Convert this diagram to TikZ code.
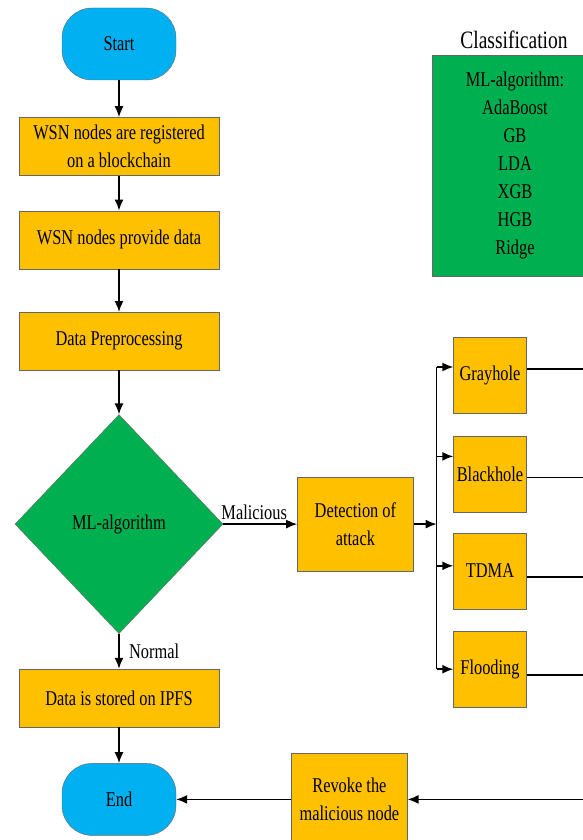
\documentclass[tikz,border=0pt]{standalone}
\usepackage{fontspec}
\setmainfont[FakeStretch=0.78]{Liberation Serif}
\usetikzlibrary{positioning,arrows.meta,shapes.geometric}
\definecolor{boxorange}{HTML}{FFC000}
\definecolor{boxgreen}{HTML}{00B050}
\definecolor{boxblue}{HTML}{00B0F0}
\newcommand{\flowfont}{\rmfamily\fontsize{21}{28}\selectfont}
\tikzset{
  procbox/.style={rectangle, draw=black!60, fill=boxorange, minimum width=200pt, minimum height=58pt, inner sep=1pt, font=\flowfont, align=center},
  termnode/.style={rectangle, rounded corners=30pt, draw=black!60, fill=boxblue, minimum width=114pt, minimum height=72pt, font=\flowfont},
  decision/.style={diamond, draw=black!60, fill=boxgreen, minimum width=208pt, minimum height=219pt, inner sep=0pt, font=\flowfont},
  attackbox/.style={procbox, minimum width=73pt, minimum height=76pt},
  classbox/.style={rectangle, draw=black!60, fill=boxgreen, minimum width=166pt, minimum height=221pt, font=\flowfont, align=center},
  fwd/.style={-{Latex[length=11pt,width=9pt]}, line width=1.6pt},
}

\begin{document}
\begin{tikzpicture}[x=1pt, y=-1pt]
  \useasboundingbox (0,0) rectangle (583,840);
  \clip (0,0) rectangle (583,840);
  \fill[white] (0,0) rectangle (583,840);

  % main column
  \node[termnode] (start) at (119,44) {Start};
  \node[procbox] (reg) [below=37pt of start] {WSN nodes are registered\\on a blockchain};
  \node[procbox] (provide) [below=35pt of reg] {WSN nodes provide data};
  \node[procbox] (prep) [below=43pt of provide] {Data Preprocessing};
  \node[decision] (mlalg) [below=44pt of prep] {ML-algorithm};
  \node[procbox] (store) [below=35pt of mlalg] {Data is stored on IPFS};
  \node[termnode] (stop) [below=36pt of store] {End};

  % attack branch
  \node[procbox, minimum width=116pt, minimum height=94pt] (detect) [right=74pt of mlalg] {Detection of\\attack};
  \node[attackbox] (gray) at (490,375) {Grayhole};
  \node[attackbox] (black) [below=23pt of gray] {Blackhole};
  \node[attackbox] (tdma) [below=20pt of black] {TDMA};
  \node[attackbox] (flood) [below=22pt of tdma] {Flooding};
  \node[procbox, minimum width=116pt, minimum height=92pt] (revoke) [right=115pt of stop] {Revoke the\\malicious node};

  % classifiers
  \node[classbox] (classbox) at (515,165.5) {ML-algorithm:\\AdaBoost\\GB\\LDA\\XGB\\HGB\\Ridge};
  \node[font=\rmfamily\fontsize{25}{28}\selectfont] (classtitle) at (514,40) {Classification};

  \coordinate (edge) at (598,0);
  \coordinate[right=23pt of detect.east] (bus);
  % entry and exit points of the attack boxes
  \coordinate[yshift=8pt] (grayin) at (gray.west);
  \coordinate[yshift=18pt] (blackin) at (black.west);
  \coordinate[yshift=5pt] (tdmain) at (tdma.west);
  \coordinate (floodin) at (flood.west);
  \coordinate[yshift=6pt] (grayout) at (gray.east);
  \coordinate[yshift=-3pt] (blackout) at (black.east);
  \coordinate[yshift=-6pt] (tdmaout) at (tdma.east);
  \coordinate[yshift=-6pt] (floodout) at (flood.east);

  \draw[fwd] (start) -- (reg);
  \draw[fwd] (reg) -- (provide);
  \draw[fwd] (provide) -- (prep);
  \draw[fwd] (prep) -- (mlalg);
  \draw[fwd] (mlalg) -- (store) node[midway, right, xshift=6pt, font=\flowfont] {Normal};
  \draw[fwd] (store) -- (stop);
  \draw[fwd] (mlalg) -- (detect) node[midway, above, xshift=-6pt, font=\flowfont] {Malicious};

  \draw[fwd] (detect) -- (bus);
  \draw[line width=1.6pt] (bus |- grayin) -- (bus |- floodin);
  \draw[fwd] (bus |- grayin) -- (grayin);
  \draw[fwd] (bus |- blackin) -- (blackin);
  \draw[fwd] (bus |- tdmain) -- (tdmain);
  \draw[fwd] (bus |- floodin) -- (floodin);

  \draw[fwd] (grayout) -- (grayout -| edge);
  \draw[fwd] (blackout) -- (blackout -| edge);
  \draw[fwd] (tdmaout) -- (tdmaout -| edge);
  \draw[fwd] (floodout) -- (floodout -| edge);

  \draw[fwd] (revoke -| edge) -- (revoke);
  \draw[fwd] (revoke) -- (stop);

\end{tikzpicture}
\end{document}
